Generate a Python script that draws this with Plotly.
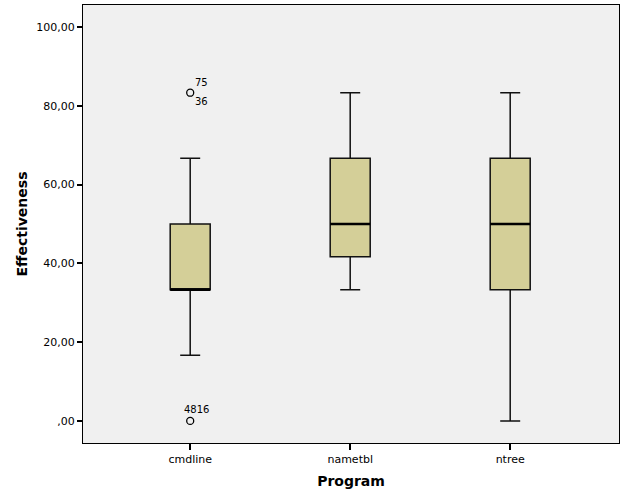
import plotly.graph_objects as go

# Box statistics per program
programs = ["cmdline", "nametbl", "ntree"]
q1 = [33.33, 41.67, 33.33]
median = [33.33, 50.0, 50.0]
q3 = [50.0, 66.67, 66.67]
lower = [16.67, 33.33, 0.0]
upper = [66.67, 83.33, 83.33]

# Outliers: program index, value, case labels
outlier_prog = [0, 0]
outlier_val = [83.33, 0.0]
outlier_ids = [["75", "36"], ["48", "16"]]

y_ticks = [0, 20, 40, 60, 80, 100]
y_ticktext = [",00", "20,00", "40,00", "60,00", "80,00", "100,00"]

box_fill = "#d4cf98"
box_w = 0.25

fig = go.Figure()
for i, p in enumerate(programs):
    fig.add_trace(go.Box(
        x=[i], q1=[q1[i]], median=[median[i]], q3=[q3[i]],
        lowerfence=[lower[i]], upperfence=[upper[i]],
        width=box_w, whiskerwidth=0.5,
        fillcolor=box_fill, line=dict(color="#111111", width=1.5),
        boxpoints=False, hoverinfo="skip", name=p, showlegend=False,
    ))
    # thicker median line, like SPSS
    fig.add_shape(type="line", xref="x", yref="y",
                  x0=i - box_w / 2, x1=i + box_w / 2,
                  y0=median[i], y1=median[i],
                  line=dict(color="black", width=2.5))

fig.add_trace(go.Scatter(
    x=outlier_prog, y=outlier_val, mode="markers",
    marker=dict(symbol="circle-open", size=7, color="black", line=dict(width=1.3)),
    showlegend=False, hoverinfo="skip",
))

lbl_font = dict(family="DejaVu Sans", size=10, color="black")
# upper outlier: labels on right, stacked
fig.add_annotation(x=outlier_prog[0], y=outlier_val[0], text=outlier_ids[0][0],
                   showarrow=False, xanchor="left", xshift=3, yshift=10, font=lbl_font)
fig.add_annotation(x=outlier_prog[0], y=outlier_val[0], text=outlier_ids[0][1],
                   showarrow=False, xanchor="left", xshift=3, yshift=-9, font=lbl_font)
# lower outlier: labels side by side above
fig.add_annotation(x=outlier_prog[1], y=outlier_val[1], text="".join(outlier_ids[1]),
                   showarrow=False, xanchor="center", xshift=6, yshift=11, font=lbl_font)

fig.update_layout(
    width=626, height=501,
    margin=dict(l=83, r=7, t=5, b=58),
    paper_bgcolor="white", plot_bgcolor="#f0f0f0",
    font=dict(family="DejaVu Sans", size=11, color="black"),
    xaxis=dict(
        range=[-0.67, 2.68], tickvals=[0, 1, 2], ticktext=programs,
        ticks="outside", ticklen=6, tickcolor="black", tickwidth=1.5,
        showgrid=False, zeroline=False,
        showline=True, linecolor="black", linewidth=1.2, mirror=True,
        title=dict(text="<b>Program</b>", font=dict(size=14), standoff=10),
        tickfont=dict(size=11),
    ),
    yaxis=dict(
        range=[-5.6, 105.6], tickvals=y_ticks, ticktext=y_ticktext,
        ticks="outside", ticklen=5, tickcolor="black", tickwidth=1.5,
        showgrid=False, zeroline=False,
        showline=True, linecolor="black", linewidth=1.2, mirror=True,
        title=dict(text="<b>Effectiveness</b>", font=dict(size=14), standoff=5),
        tickfont=dict(size=11),
    ),
)

fig.write_html("out.html", config={"displayModeBar": False},
               post_script="document.body.style.margin='0';")
